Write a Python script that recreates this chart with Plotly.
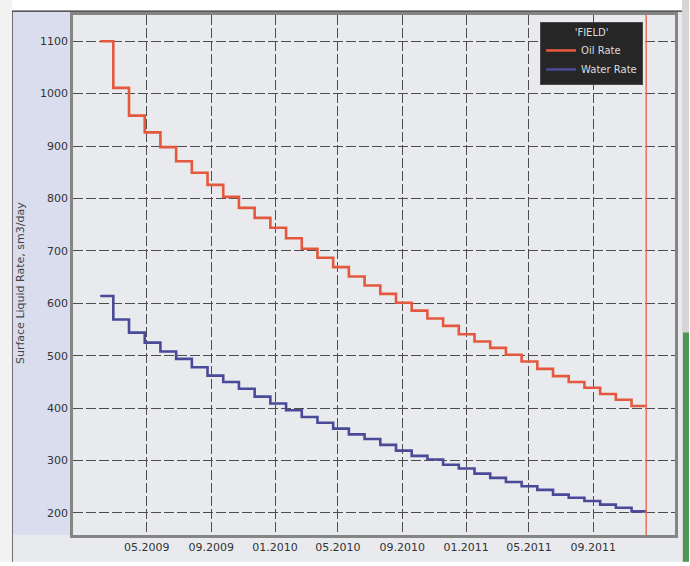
import plotly.graph_objects as go

# ---- data ----
step_dates = [
    "2009-02-01", "2009-02-26", "2009-03-28", "2009-04-27", "2009-05-27", "2009-06-26",
    "2009-07-26", "2009-08-25", "2009-09-24", "2009-10-24", "2009-11-23", "2009-12-23",
    "2010-01-22", "2010-02-21", "2010-03-23", "2010-04-22", "2010-05-22", "2010-06-21",
    "2010-07-21", "2010-08-20", "2010-09-19", "2010-10-19", "2010-11-18", "2010-12-18",
    "2011-01-17", "2011-02-16", "2011-03-18", "2011-04-17", "2011-05-17", "2011-06-16",
    "2011-07-16", "2011-08-15", "2011-09-14", "2011-10-14", "2011-11-13",
]
end_date = "2011-12-11"

oil_rate = [1100, 1011, 958, 926, 898, 871, 849, 826, 803, 782, 763, 744, 724, 704, 687,
            669, 651, 634, 618, 601, 586, 571, 557, 541, 527, 515, 502, 489, 475, 461,
            450, 439, 427, 416, 404]
water_rate = [614, 569, 544, 525, 508, 494, 478, 462, 450, 437, 422, 409, 396, 383, 372,
              361, 350, 341, 330, 319, 309, 302, 292, 285, 275, 267, 259, 251, 244, 235,
              229, 223, 216, 210, 203]

x_tick_dates = ["2009-05-01", "2009-09-01", "2010-01-01", "2010-05-01", "2010-09-01",
                "2011-01-01", "2011-05-01", "2011-09-01"]
x_tick_labels = ["05.2009", "09.2009", "01.2010", "05.2010", "09.2010",
                 "01.2011", "05.2011", "09.2011"]
y_ticks = [200, 300, 400, 500, 600, 700, 800, 900, 1000, 1100]

legend_title = "'FIELD'"
y_title = "Surface Liquid Rate, sm3/day"

# ---- figure ----
W, H = 690, 566
L, R, T, B = 73, 676, 15, 539
FONT = "DejaVu Sans, Verdana, sans-serif"


def px(xpix):
    return (xpix - L) / (R - L)


def py(ypix):
    return (B - ypix) / (B - T)


xs = step_dates + [end_date]

fig = go.Figure()
fig.add_trace(go.Scatter(
    x=xs, y=oil_rate + [oil_rate[-1]], mode="lines", name="Oil Rate",
    line=dict(color="#e4583e", width=2.6, shape="hv"),
))
fig.add_trace(go.Scatter(
    x=xs, y=water_rate + [water_rate[-1]], mode="lines", name="Water Rate",
    line=dict(color="#4a4a98", width=2.6, shape="hv"),
))

shapes = [
    # frame background (light grey)
    dict(type="rect", xref="paper", yref="paper", x0=px(12), x1=px(683), y0=py(566), y1=py(11),
         fillcolor="#e8eaee", line=dict(width=0), layer="below"),
    # lavender left panel
    dict(type="rect", xref="paper", yref="paper", x0=px(12), x1=px(L), y0=py(B), y1=py(11),
         fillcolor="#d9ddee", line=dict(width=0), layer="below"),
    dict(type="rect", xref="paper", yref="paper", x0=px(L), x1=px(683), y0=py(T), y1=py(11),
         fillcolor="#e2e4ee", line=dict(width=0), layer="below"),
    # frame edges
    dict(type="line", xref="paper", yref="paper", x0=px(12), x1=px(12), y0=py(566), y1=py(11),
         line=dict(color="#2a2a2a", width=1.2), layer="below"),
    dict(type="line", xref="paper", yref="paper", x0=px(12), x1=px(684), y0=py(11), y1=py(11),
         line=dict(color="#2a2a2a", width=1.2), layer="below"),
    # shadow / decoration at right
    dict(type="rect", xref="paper", yref="paper", x0=px(683), x1=px(690), y0=py(566), y1=py(0),
         fillcolor="#d6d6d6", line=dict(width=0), layer="below"),
    dict(type="rect", xref="paper", yref="paper", x0=px(684), x1=px(690), y0=py(566), y1=py(335),
         fillcolor="#4f9656", line=dict(width=0), layer="below"),
    dict(type="rect", xref="paper", yref="paper", x0=px(0), x1=px(12), y0=py(566), y1=py(0),
         fillcolor="#f2f2f2", line=dict(width=0), layer="below"),
    # vertical end-of-simulation line
    dict(type="line", xref="x", yref="paper", x0=end_date, x1=end_date, y0=0, y1=1,
         line=dict(color="#ec6a50", width=1.4), layer="above"),
]

fig.update_layout(
    width=W, height=H,
    margin=dict(l=L, r=W - R, t=T, b=H - B, pad=0),
    paper_bgcolor="#ffffff",
    plot_bgcolor="#eceef2",
    font=dict(family=FONT, size=11, color="#333333"),
    shapes=shapes,
    showlegend=True,
    legend=dict(
        x=px(644), xanchor="right", y=py(22), yanchor="top",
        bgcolor="#262626", bordercolor="#4a4a4a", borderwidth=1,
        font=dict(family=FONT, size=10, color="#dcdcdc"),
        title=dict(text=legend_title, side="top center",
                   font=dict(family=FONT, size=10, color="#dcdcdc")),
        itemwidth=30, tracegroupgap=0,
    ),
    annotations=[
        dict(text=y_title, xref="paper", yref="paper", x=px(21), y=py(285),
             xanchor="center", yanchor="middle", textangle=-90, showarrow=False,
             font=dict(family=FONT, size=11, color="#444444")),
    ],
)

grid = dict(showgrid=True, gridcolor="#4d4d4d", gridwidth=1.4, griddash="10px,3px",
            showline=True, linecolor="#858585", linewidth=2.5, mirror=True,
            ticks="", zeroline=False, tickfont=dict(family=FONT, size=11, color="#333333"))

fig.update_xaxes(
    type="date", range=["2008-12-11", "2012-02-04"],
    tickmode="array", tickvals=x_tick_dates, ticktext=x_tick_labels, **grid,
)
fig.update_yaxes(
    range=[158, 1150], tickmode="array", tickvals=y_ticks, **grid,
)

fig.write_html("out.html")
